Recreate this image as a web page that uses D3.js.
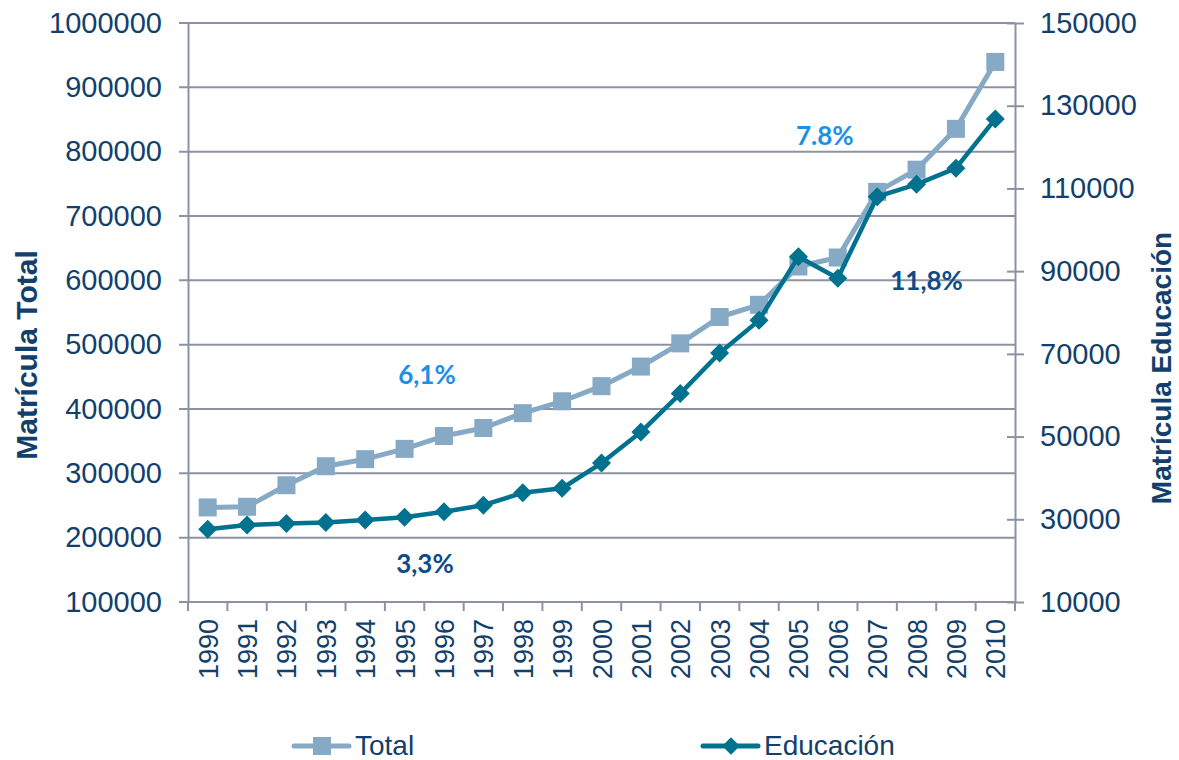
<!DOCTYPE html>
<html>
<head>
<meta charset="utf-8">
<script src="https://cdn.jsdelivr.net/npm/d3@7"></script>
<style>
  body { margin: 0; background: #fff; }
  svg { display: block; }
  text { font-family: "Liberation Sans", Arial, sans-serif; }
</style>
</head>
<body>
<svg width="1179" height="760"></svg>
<script>
// years on the x axis
var years = ["1990","1991","1992","1993","1994","1995","1996","1997","1998","1999","2000",
             "2001","2002","2003","2004","2005","2006","2007","2008","2009","2010"];

// Matricula total (left axis)
var totalValues = [247000, 248000, 281500, 311000, 322000, 338000, 358000, 370500, 393500, 412000, 435500,
                   466000, 502000, 543000, 562000, 621500, 635500, 737500, 772000, 835500, 939500];

// Matricula educacion (right axis)
var eduValues = [27600, 28600, 29000, 29200, 29800, 30500, 31800, 33400, 36400, 37500, 43600,
                 51100, 60400, 70200, 78100, 93500, 88300, 108000, 111000, 114900, 126800];

var leftTicks = [100000, 200000, 300000, 400000, 500000, 600000, 700000, 800000, 900000, 1000000];
var rightTicks = [10000, 30000, 50000, 70000, 90000, 110000, 130000, 150000];

// growth annotations
var notes = [
  { text: "6,1%",  year: "1996", value: 453000, axis: "left",  kind: "total" },
  { text: "3,3%",  year: "1996", value: 159000, axis: "left",  kind: "edu" },
  { text: "7.8%",  year: "2006", value: 122700, axis: "right", kind: "total" },
  { text: "11,8%", year: "2008", value: 87600,  axis: "right", kind: "edu" }
];

var svg = d3.select("svg"),
    margin = { top: 23, right: 164, bottom: 158, left: 188 },
    width = +svg.attr("width"),
    height = +svg.attr("height");

var textColor = "#123F6C",
    gridColor = "#8B93A3",
    totalColor = "#86A9C5",
    eduColor = "#00728F",
    noteColor = { total: "#1E8FE8", edu: "#0D4C86" },
    noteShift = [-17, -19, -13, 10];

var x = d3.scaleBand()
    .domain(years)
    .range([margin.left, width - margin.right]);

var yL = d3.scaleLinear()
    .domain([100000, 1000000])
    .range([height - margin.bottom, margin.top]);

var yR = d3.scaleLinear()
    .domain([10000, 150000])
    .range([height - margin.bottom, margin.top]);

// gridlines
svg.append("g")
    .selectAll("line")
    .data(leftTicks)
    .enter().append("line")
    .attr("x1", margin.left - 9)
    .attr("x2", width - margin.right)
    .attr("y1", function(d) { return yL(d); })
    .attr("y2", function(d) { return yL(d); })
    .attr("stroke", gridColor)
    .attr("stroke-width", 2);

// left axis
var axL = svg.append("g")
    .attr("class", "y axis")
    .attr("transform", "translate(" + margin.left + ",0)")
    .call(d3.axisLeft(yL).tickValues(leftTicks).tickSize(0).tickPadding(26).tickFormat(d3.format("d")));
axL.select(".domain").attr("stroke", gridColor).attr("stroke-width", 2);
axL.selectAll("text").attr("fill", textColor).style("font-size", "29px")
    .attr("font-family", "Liberation Sans, Arial, sans-serif");

// right axis
var axR = svg.append("g")
    .attr("class", "y axis")
    .attr("transform", "translate(" + (width - margin.right) + ",0)")
    .call(d3.axisRight(yR).tickValues(rightTicks).tickSizeInner(9).tickSizeOuter(0).tickPadding(16).tickFormat(d3.format("d")));
axR.select(".domain").attr("stroke", gridColor).attr("stroke-width", 2);
axR.selectAll(".tick line").attr("stroke", gridColor).attr("stroke-width", 2).attr("x1", -8);
axR.selectAll("text").attr("fill", textColor).style("font-size", "29px")
    .attr("font-family", "Liberation Sans, Arial, sans-serif");

// x axis with ticks between categories
var axX = svg.append("g")
    .attr("class", "x axis")
    .attr("transform", "translate(0," + (height - margin.bottom) + ")");
axX.append("line")
    .attr("x1", margin.left).attr("x2", width - margin.right)
    .attr("stroke", gridColor).attr("stroke-width", 2);
axX.selectAll(".tk")
    .data(years.concat(["end"]))
    .enter().append("line")
    .attr("class", "tk")
    .attr("x1", function(d, i) { return margin.left + i * x.bandwidth(); })
    .attr("x2", function(d, i) { return margin.left + i * x.bandwidth(); })
    .attr("y1", 0).attr("y2", 9)
    .attr("stroke", gridColor).attr("stroke-width", 2);
axX.selectAll(".lbl")
    .data(years)
    .enter().append("text")
    .attr("class", "lbl")
    .attr("transform", function(d) {
        return "translate(" + (x(d) + x.bandwidth() / 2 + 10) + ",17) rotate(-90)";
    })
    .attr("text-anchor", "end")
    .attr("fill", textColor)
    .style("font-size", "27px")
    .text(function(d) { return d; });

// axis titles
svg.append("text")
    .attr("transform", "translate(37,355) rotate(-90)")
    .attr("text-anchor", "middle")
    .attr("fill", textColor)
    .style("font-size", "30px")
    .style("font-weight", "bold")
    .text("Matrícula Total");

svg.append("text")
    .attr("transform", "translate(1171,368) rotate(-90)")
    .attr("text-anchor", "middle")
    .attr("fill", textColor)
    .style("font-size", "28px")
    .style("font-weight", "bold")
    .text("Matrícula Educación");

var cx = function(d, i) { return x(years[i]) + x.bandwidth() / 2; };

// total series
svg.append("path")
    .datum(totalValues)
    .attr("fill", "none")
    .attr("stroke", totalColor)
    .attr("stroke-width", 5)
    .attr("stroke-linejoin", "round")
    .attr("d", d3.line().x(cx).y(function(d) { return yL(d); }));

svg.append("g")
    .selectAll("rect")
    .data(totalValues)
    .enter().append("rect")
    .attr("x", function(d, i) { return cx(d, i) - 9; })
    .attr("y", function(d) { return yL(d) - 9; })
    .attr("width", 18)
    .attr("height", 18)
    .attr("fill", totalColor);

// education series
svg.append("path")
    .datum(eduValues)
    .attr("fill", "none")
    .attr("stroke", eduColor)
    .attr("stroke-width", 4.5)
    .attr("stroke-linejoin", "round")
    .attr("d", d3.line().x(cx).y(function(d) { return yR(d); }));

var diamond = d3.symbol().type(d3.symbolDiamond2).size(230);
svg.append("g")
    .selectAll("path")
    .data(eduValues)
    .enter().append("path")
    .attr("d", diamond)
    .attr("transform", function(d, i) { return "translate(" + cx(d, i) + "," + yR(d) + ")"; })
    .attr("fill", eduColor);

// annotations
svg.append("g")
    .selectAll("text")
    .data(notes)
    .enter().append("text")
    .attr("x", function(d, i) { return x(d.year) + x.bandwidth() / 2 + noteShift[i]; })
    .attr("y", function(d) { return (d.axis === "right" ? yR(d.value) : yL(d.value)) + 9; })
    .attr("text-anchor", "middle")
    .attr("fill", function(d) { return noteColor[d.kind]; })
    .style("font-family", "Lato, 'Open Sans', sans-serif")
    .style("font-size", "26px")
    .style("font-weight", "bold")
    .text(function(d) { return d.text; });

// legend
var legend = [
  { name: "Total", color: totalColor, x: 294, shape: "square" },
  { name: "Educación", color: eduColor, x: 703, shape: "diamond" }
];
var lg = svg.append("g").selectAll("g")
    .data(legend)
    .enter().append("g")
    .attr("transform", function(d) { return "translate(" + d.x + ",746)"; });
lg.append("line")
    .attr("x1", 0).attr("x2", 55)
    .attr("stroke", function(d) { return d.color; })
    .attr("stroke-width", 5)
    .attr("stroke-linecap", "round");
lg.append("path")
    .attr("d", function(d) {
        return d.shape === "square" ? d3.symbol().type(d3.symbolSquare).size(324)()
                                    : d3.symbol().type(d3.symbolDiamond2).size(200)();
    })
    .attr("transform", "translate(28,0)")
    .attr("fill", function(d) { return d.color; });
lg.append("text")
    .attr("x", 61)
    .attr("y", 9)
    .attr("fill", textColor)
    .style("font-size", "28px")
    .text(function(d) { return d.name; });
</script>
</body>
</html>
